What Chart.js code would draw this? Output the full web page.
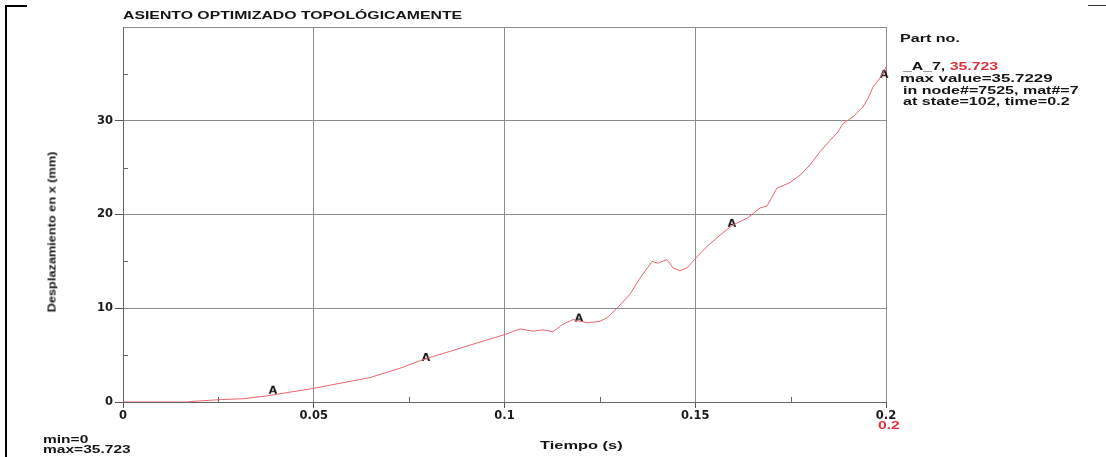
<!DOCTYPE html>
<html>
<head>
<meta charset="utf-8">
<script src="https://cdn.jsdelivr.net/npm/chart.js@4.4.1/dist/chart.umd.min.js"></script>
<style>
  html, body { margin:0; padding:0; background:#fff; }
  #wrap { position:relative; width:1106px; height:457px; overflow:hidden; background:#fff; }
  #c { position:absolute; left:0; top:0; }
  .t { position:absolute; white-space:nowrap; line-height:1; font-family:"Liberation Sans", Arial, sans-serif; font-weight:bold; color:#151515; transform-origin:0 50%; }
  .red { color:#e0303a; }
  .line { position:absolute; background:#000; }
</style>
</head>
<body>
<div id="wrap">
  <canvas id="c" width="1106" height="457"></canvas>
  <div class="line" style="left:5px;top:5px;width:2px;height:452px;"></div>
  <div class="line" style="left:5px;top:5px;width:22px;height:2px;"></div>
  <div class="line" style="left:1088px;top:5px;width:18px;height:1px;background:#333;"></div>

  <div class="t fit" data-w="339" style="left:123px;top:10px;font-size:11px;">ASIENTO OPTIMIZADO TOPOLÓGICAMENTE</div>
  <div class="t fit" data-w="60" style="left:900px;top:33px;font-size:11px;">Part no.</div>
  <div class="t fit" data-w="95" style="left:903px;top:61px;font-size:11px;">_A_7, <span class="red">35.723</span></div>
  <div class="t fit" data-w="152" style="left:900px;top:73px;font-size:11px;">max value=35.7229</div>
  <div class="t fit" data-w="175" style="left:903px;top:85px;font-size:11px;">in node#=7525, mat#=7</div>
  <div class="t fit" data-w="167" style="left:903px;top:96px;font-size:11px;">at state=102, time=0.2</div>
  <div class="t fit red" data-w="22" style="left:878px;top:421px;font-size:10px;">0.2</div>
  <div class="t fit" data-w="82" style="left:540px;top:440px;font-size:11px;">Tiempo (s)</div>
  <div class="t fit" data-w="45" style="left:43px;top:435px;font-size:10px;">min=0</div>
  <div class="t fit" data-w="87" style="left:43px;top:445px;font-size:10px;">max=35.723</div>
  <div id="ylab" class="t" data-w="161" style="left:52px;top:232px;font-size:11px;font-weight:bold;">Desplazamiento en x (mm)</div>
</div>
<script>
// ---- data ----
const timeValues = [0, 0.0170, 0.0176, 0.0254, 0.0315, 0.0377, 0.0430, 0.0498, 0.0569, 0.0647, 0.0726, 0.0792, 0.0857, 0.0928, 0.1001,
  0.1041, 0.1075, 0.1101, 0.1127, 0.1153, 0.1180, 0.1216, 0.1250, 0.1269, 0.1295, 0.1329, 0.1355, 0.1387, 0.1402, 0.1426,
  0.1442, 0.1460, 0.1478, 0.1505, 0.1531, 0.1565, 0.1599, 0.1636, 0.1670, 0.1688, 0.1714, 0.1748, 0.1775, 0.1801, 0.1827,
  0.1853, 0.1874, 0.1887, 0.1913, 0.1940, 0.1953, 0.1966, 0.1985, 0.2000];
const dispValues = [0, 0, 0.05, 0.25, 0.35, 0.65, 1.0, 1.45, 2.0, 2.6, 3.6, 4.6, 5.4, 6.3, 7.2,
  7.8, 7.55, 7.7, 7.5, 8.3, 8.8, 8.45, 8.6, 9.0, 10.0, 11.5, 13.2, 15.0, 14.8, 15.2,
  14.3, 14.0, 14.3, 15.5, 16.6, 17.8, 18.9, 19.6, 20.7, 20.9, 22.8, 23.4, 24.2, 25.3, 26.7,
  27.9, 28.8, 29.7, 30.4, 31.5, 32.4, 33.6, 34.6, 35.723];
const markerTimes = [0.0393, 0.0794, 0.1195, 0.1596, 0.1995];
const markerValues = [1.2, 4.7, 8.9, 19.0, 34.9];
const xTickLabels = ['0', '0.05', '0.1', '0.15', '0.2'];
const yTickLabels = ['0', '10', '20', '30', ''];
const xMinorTicks = [0.025, 0.075, 0.125, 0.175];
const yMinorTicks = [5, 15, 25, 35];

// marker glyph "A"
const mk = document.createElement('canvas');
mk.width = 14; mk.height = 14;
const mctx = mk.getContext('2d');
mctx.fillStyle = '#111';
mctx.font = 'bold 11px "DejaVu Sans", Arial, sans-serif';
mctx.textAlign = 'center';
mctx.textBaseline = 'middle';
mctx.fillText('A', 7, 7.5);

const minorTicks = {
  id: 'minorTicks',
  afterDraw(chart) {
    const {ctx, chartArea, scales} = chart;
    ctx.save();
    ctx.strokeStyle = '#666';
    ctx.lineWidth = 1;
    ctx.beginPath();
    yMinorTicks.forEach(v => {
      const y = Math.round(scales.y.getPixelForValue(v)) + 0.5;
      ctx.moveTo(chartArea.left, y); ctx.lineTo(chartArea.left + 5, y);
    });
    xMinorTicks.forEach(v => {
      const x = Math.round(scales.x.getPixelForValue(v)) + 0.5;
      ctx.moveTo(x, chartArea.bottom); ctx.lineTo(x, chartArea.bottom - 5);
    });
    ctx.stroke();
    ctx.restore();
  }
};

const tickFont = {family: '"DejaVu Sans", Arial, sans-serif', size: 11.5, weight: 'bold'};

new Chart(document.getElementById('c'), {
  type: 'scatter',
  data: {
    datasets: [{
      data: timeValues.map((t, i) => ({x: t, y: dispValues[i]})),
      showLine: true,
      borderColor: 'rgb(236,100,110)',
      borderWidth: 1,
      pointRadius: 0,
      tension: 0
    }, {
      data: markerTimes.map((t, i) => ({x: t, y: markerValues[i]})),
      showLine: false,
      pointStyle: mk,
      pointRadius: 7,
      clip: false
    }]
  },
  options: {
    responsive: false,
    animation: false,
    devicePixelRatio: 1,
    layout: {padding: {left: 0, right: 220, top: 27, bottom: 0}},
    plugins: {legend: {display: false}, tooltip: {enabled: false}},
    scales: {
      x: {
        type: 'linear', min: 0, max: 0.2,
        afterFit: s => { s.height = 55; },
        afterBuildTicks: s => { s.ticks = xTickLabels.map(l => ({value: parseFloat(l)})); },
        ticks: {
          font: tickFont, color: '#1a1a1a', padding: 1, maxRotation: 0, autoSkip: false,
          callback: (v, i) => xTickLabels[i]
        },
        grid: {color: '#8c8c8c', tickLength: 6, tickColor: '#555', lineWidth: 1},
        border: {display: true, color: '#666'}
      },
      y: {
        type: 'linear', min: 0, max: 40,
        afterFit: s => { s.width = 123; },
        afterBuildTicks: s => { s.ticks = [0, 10, 20, 30, 40].map(v => ({value: v})); },
        ticks: {
          font: tickFont, color: '#1a1a1a', padding: 2, autoSkip: false,
          callback: (v, i) => yTickLabels[i]
        },
        grid: {color: '#8c8c8c', tickLength: 8, tickColor: (c) => c.tick && c.tick.value === 40 ? 'transparent' : '#555', lineWidth: 1},
        border: {display: true, color: '#666'}
      }
    }
  },
  plugins: [minorTicks]
});

// fit overlay texts to measured widths
document.querySelectorAll('.fit').forEach(el => {
  const k = (+el.dataset.w) / el.scrollWidth;
  el.style.transform = 'scaleX(' + k + ')';
});
const yl = document.getElementById('ylab');
const ky = (+yl.dataset.w) / yl.scrollWidth;
yl.style.transformOrigin = '50% 50%';
yl.style.transform = 'translate(-50%,-50%) rotate(-90deg) scaleX(' + ky + ')';
</script>
</body>
</html>
